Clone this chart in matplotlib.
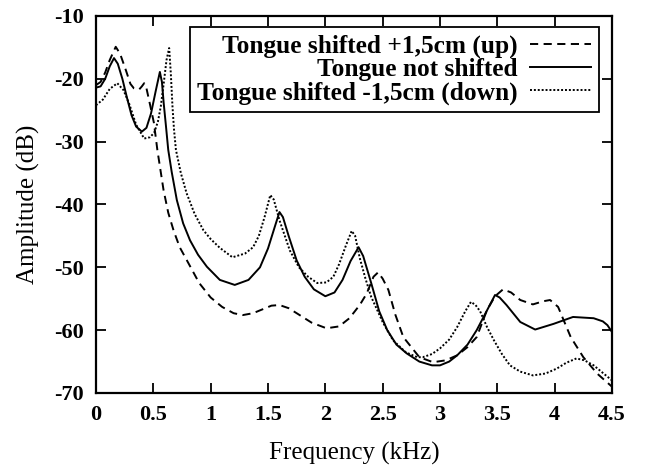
import matplotlib
matplotlib.use("Agg")
import matplotlib.pyplot as plt

# values (frequency in kHz, amplitude in dB)
freq_up = [0.00, 0.04, 0.08, 0.12, 0.172, 0.21, 0.26, 0.30, 0.33, 0.376, 0.40, 0.42,
           0.44, 0.47, 0.505, 0.535, 0.589, 0.63, 0.676, 0.73, 0.793, 0.90, 1.00, 1.10,
           1.20, 1.28, 1.37, 1.45, 1.53, 1.60, 1.68, 1.75, 1.88, 2.01, 2.12, 2.21,
           2.30, 2.36, 2.42, 2.46, 2.50, 2.55, 2.61, 2.68, 2.82, 2.94, 3.05, 3.15,
           3.24, 3.32, 3.41, 3.48, 3.55, 3.62, 3.70, 3.81, 3.90, 3.96, 4.03, 4.14,
           4.25, 4.37, 4.50]
amp_up = [-21.0, -20.5, -19.0, -17.0, -14.9, -16.0, -18.6, -20.8, -21.5, -21.7, -21.2, -20.7,
          -21.5, -24.0, -27.0, -31.3, -37.7, -41.3, -44.1, -46.8, -48.9, -52.5, -54.8, -56.3,
          -57.3, -57.6, -57.3, -56.7, -56.1, -56.0, -56.5, -57.3, -58.8, -59.7, -59.4, -58.1,
          -56.0, -54.2, -51.5, -50.8, -51.8, -53.6, -57.5, -61.1, -64.3, -65.1, -64.8, -64.0,
          -62.7, -61.1, -56.8, -54.6, -53.5, -54.0, -55.2, -55.9, -55.4, -55.2, -56.3, -61.1,
          -64.3, -66.9, -69.0]

freq_mid = [0.00, 0.04, 0.08, 0.12, 0.157, 0.19, 0.23, 0.27, 0.31, 0.35, 0.40, 0.44,
            0.48, 0.52, 0.557, 0.575, 0.59, 0.61, 0.63, 0.66, 0.705, 0.76, 0.82, 0.89,
            0.967, 1.08, 1.21, 1.33, 1.43, 1.50, 1.56, 1.60, 1.63, 1.68, 1.75, 1.82,
            1.90, 2.00, 2.08, 2.15, 2.22, 2.29, 2.33, 2.40, 2.47, 2.54, 2.62, 2.71,
            2.82, 2.93, 3.00, 3.08, 3.15, 3.24, 3.32, 3.40, 3.48, 3.52, 3.58, 3.70,
            3.83, 3.99, 4.16, 4.34, 4.42, 4.46, 4.50]
amp_mid = [-21.4, -21.2, -20.0, -18.0, -16.7, -17.6, -20.0, -23.0, -25.8, -27.6, -28.4, -27.8,
           -25.5, -22.0, -18.9, -20.5, -23.8, -27.5, -31.3, -34.8, -39.3, -43.0, -45.7, -48.0,
           -49.9, -52.0, -52.8, -52.0, -50.0, -47.0, -43.5, -41.2, -42.0, -45.0, -48.9, -51.5,
           -53.5, -54.6, -54.0, -52.0, -49.0, -46.8, -48.2, -52.5, -57.0, -60.0, -62.3, -63.7,
           -65.0, -65.6, -65.6, -65.0, -64.0, -62.3, -60.0, -57.2, -54.4, -54.8, -56.0, -58.7,
           -59.9, -59.0, -57.9, -58.1, -58.6, -59.2, -60.3]

freq_down = [0.00, 0.06, 0.12, 0.186, 0.24, 0.29, 0.35, 0.42, 0.47, 0.507, 0.54, 0.565,
             0.59, 0.615, 0.638, 0.652, 0.667, 0.68, 0.697, 0.74, 0.79, 0.86, 0.937, 1.00,
             1.08, 1.19, 1.30, 1.37, 1.42, 1.47, 1.52, 1.55, 1.60, 1.69, 1.77, 1.85,
             1.93, 2.01, 2.07, 2.12, 2.18, 2.23, 2.26, 2.30, 2.35, 2.40, 2.50, 2.59,
             2.70, 2.80, 2.85, 2.93, 3.00, 3.08, 3.15, 3.22, 3.27, 3.31, 3.35, 3.41,
             3.47, 3.54, 3.61, 3.70, 3.81, 3.92, 4.02, 4.10, 4.19, 4.26, 4.34, 4.42, 4.50]
amp_down = [-24.2, -23.3, -21.6, -20.7, -21.8, -24.0, -27.3, -29.5, -29.3, -28.6, -26.8, -24.4,
            -20.8, -17.0, -15.1, -19.0, -24.4, -28.0, -31.3, -35.0, -38.2, -41.5, -44.1, -45.5,
            -46.9, -48.4, -47.8, -46.8, -45.0, -42.0, -38.5, -39.2, -42.5, -47.3, -50.0, -51.5,
            -52.5, -52.4, -51.5, -49.5, -46.5, -44.2, -45.0, -48.5, -51.8, -54.7, -58.7, -61.6,
            -63.5, -64.3, -64.3, -63.8, -62.9, -61.5, -59.5, -57.0, -55.5, -56.0, -57.0, -59.5,
            -61.6, -63.8, -65.6, -66.6, -67.2, -66.9, -66.1, -65.2, -64.5, -64.8, -65.6, -66.8, -68.0]

labels = ["Tongue shifted +1,5cm (up)", "Tongue not shifted", "Tongue shifted -1,5cm (down)"]
x_ticks = [0, 0.5, 1, 1.5, 2, 2.5, 3, 3.5, 4, 4.5]
x_tick_labels = ["0", "0.5", "1", "1.5", "2", "2.5", "3", "3.5", "4", "4.5"]
y_ticks = [-70, -60, -50, -40, -30, -20, -10]

plt.rcParams["font.family"] = ["Liberation Serif", "DejaVu Serif"]
plt.rcParams["axes.unicode_minus"] = False

fig = plt.figure(figsize=(6.46, 4.70), dpi=100)
ax = fig.add_axes([96 / 646, 1 - 393 / 470, 516 / 646, 377 / 470])

ax.plot(freq_up, amp_up, color="black", lw=1.4, linestyle=(0, (4.2, 2.8)), label=labels[0])
ax.plot(freq_mid, amp_mid, color="black", lw=1.4, linestyle="-", label=labels[1])
ax.plot(freq_down, amp_down, color="black", lw=1.4, linestyle=(0, (1.0, 1.0)), label=labels[2])

ax.set_xlim(0, 4.5)
ax.set_ylim(-70, -10)
ax.set_xticks(x_ticks)
ax.set_xticklabels(x_tick_labels)
ax.set_yticks(y_ticks)

# gnuplot-like frame: inward ticks on every side
ax.tick_params(direction="in", length=7, width=1.3, top=True, right=True,
               labelsize=16, pad=9)
for lab in ax.get_xticklabels() + ax.get_yticklabels():
    lab.set_fontweight("bold")
for sp in ax.spines.values():
    sp.set_linewidth(1.6)

ax.set_xlabel("Frequency (kHz)", fontsize=18, labelpad=12)
ax.set_ylabel("Amplitude (dB)", fontsize=18, labelpad=10)

# key with the text on the left of the line sample, right aligned
leg = ax.legend(loc="upper right", bbox_to_anchor=(0.975, 0.97), borderaxespad=0,
                markerfirst=False, fancybox=False, framealpha=1, edgecolor="black",
                handlelength=2.4, handletextpad=0.5, labelspacing=0.0,
                borderpad=0.3, prop={"size": 18.3, "weight": "bold"})
leg.get_frame().set_linewidth(1.3)

fig.savefig("out.png", dpi=100)
